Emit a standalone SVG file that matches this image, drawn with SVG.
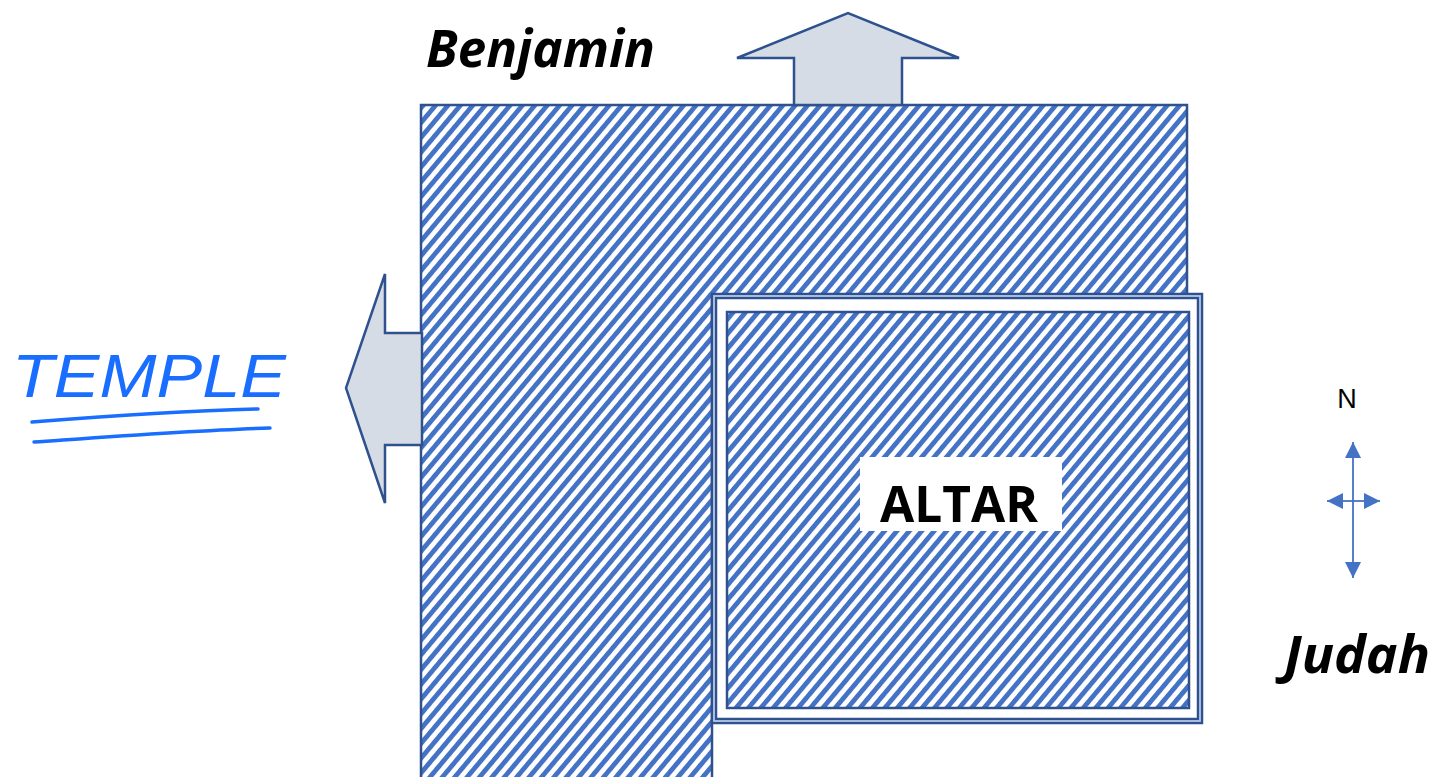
<svg xmlns="http://www.w3.org/2000/svg" width="1443" height="777" viewBox="0 0 1443 777">
  <style>
    .outline { stroke: #2F528F; stroke-width: 2.5; }
    .arrow { fill: #D6DCE5; stroke: #2F528F; stroke-width: 2.5; stroke-linejoin: miter; }
    .label { font-family: "Open Sans", "Liberation Sans", sans-serif; font-weight: bold; fill: #000; }
    .compass { stroke: #4472C4; stroke-width: 1.8; fill: none; }
    .ink { fill: none; stroke: #1A6EFF; stroke-width: 3.5; stroke-linecap: round; }
  </style>
  <defs>
    <pattern id="hatch" patternUnits="userSpaceOnUse" width="9.5" height="9.5" patternTransform="rotate(40)">
      <rect x="0" y="0" width="9.5" height="9.5" fill="#FFFFFF"/>
      <rect x="0" y="0" width="4.8" height="9.5" fill="#4472C4"/>
    </pattern>
    <marker id="ca" viewBox="0 0 16 16" refX="16" refY="8" markerWidth="16" markerHeight="16" markerUnits="userSpaceOnUse" orient="auto">
      <path d="M0,0 L16,8 L0,16 Z" fill="#4472C4"/>
    </marker>
  </defs>

  <g id="court">
    <path class="outline" fill="url(#hatch)" d="M421,105 H1187 V296 H712 V782 H421 Z"/>
  </g>

  <g id="benjamin-arrow">
    <path class="arrow" d="M794,105 V58 H737 L848,13 L959,58 H902 V105 Z"/>
  </g>

  <g id="temple-arrow">
    <path class="arrow" d="M422,333 H385 V274 L346,388 L385,503 V445 H422 Z"/>
  </g>

  <g id="altar">
    <rect x="714" y="296" width="486" height="425" fill="#FFFFFF" stroke="#2F528F" stroke-width="6.5"/>
    <rect x="714" y="296" width="486" height="425" fill="none" stroke="#B4C7E7" stroke-width="1.8"/>
    <rect x="727" y="312" width="462" height="396" fill="url(#hatch)" class="outline"/>
    <rect x="860" y="457" width="202" height="74" fill="#FFFFFF"/>
    <text class="label" x="959" y="522" font-size="50" text-anchor="middle" textLength="158" lengthAdjust="spacingAndGlyphs">ALTAR</text>
  </g>

  <g id="benjamin">
    <text class="label" x="426" y="67" font-size="52" font-style="italic" textLength="229" lengthAdjust="spacingAndGlyphs">Benjamin</text>
  </g>

  <g id="judah">
    <text class="label" x="1284" y="673" font-size="52" font-style="italic" textLength="146" lengthAdjust="spacingAndGlyphs">Judah</text>
  </g>

  <g id="temple">
    <text x="12" y="397" font-family="Liberation Sans, sans-serif" font-style="italic" font-size="62" fill="#1A6EFF" textLength="274" lengthAdjust="spacingAndGlyphs">TEMPLE</text>
    <path class="ink" d="M32,422 C110,416 190,411 258,409"/>
    <path class="ink" d="M34,442 C120,436 200,430 270,428"/>
  </g>

  <g id="compass">
    <text x="1347" y="408" font-family="Liberation Sans, sans-serif" font-size="27" text-anchor="middle" fill="#000">N</text>
  </g>

  <g id="connectors">
    <path class="compass" d="M1353,501 V442" marker-end="url(#ca)"/>
    <path class="compass" d="M1353,501 V578" marker-end="url(#ca)"/>
    <path class="compass" d="M1353,501 H1327" marker-end="url(#ca)"/>
    <path class="compass" d="M1353,501 H1380" marker-end="url(#ca)"/>
  </g>
</svg>
